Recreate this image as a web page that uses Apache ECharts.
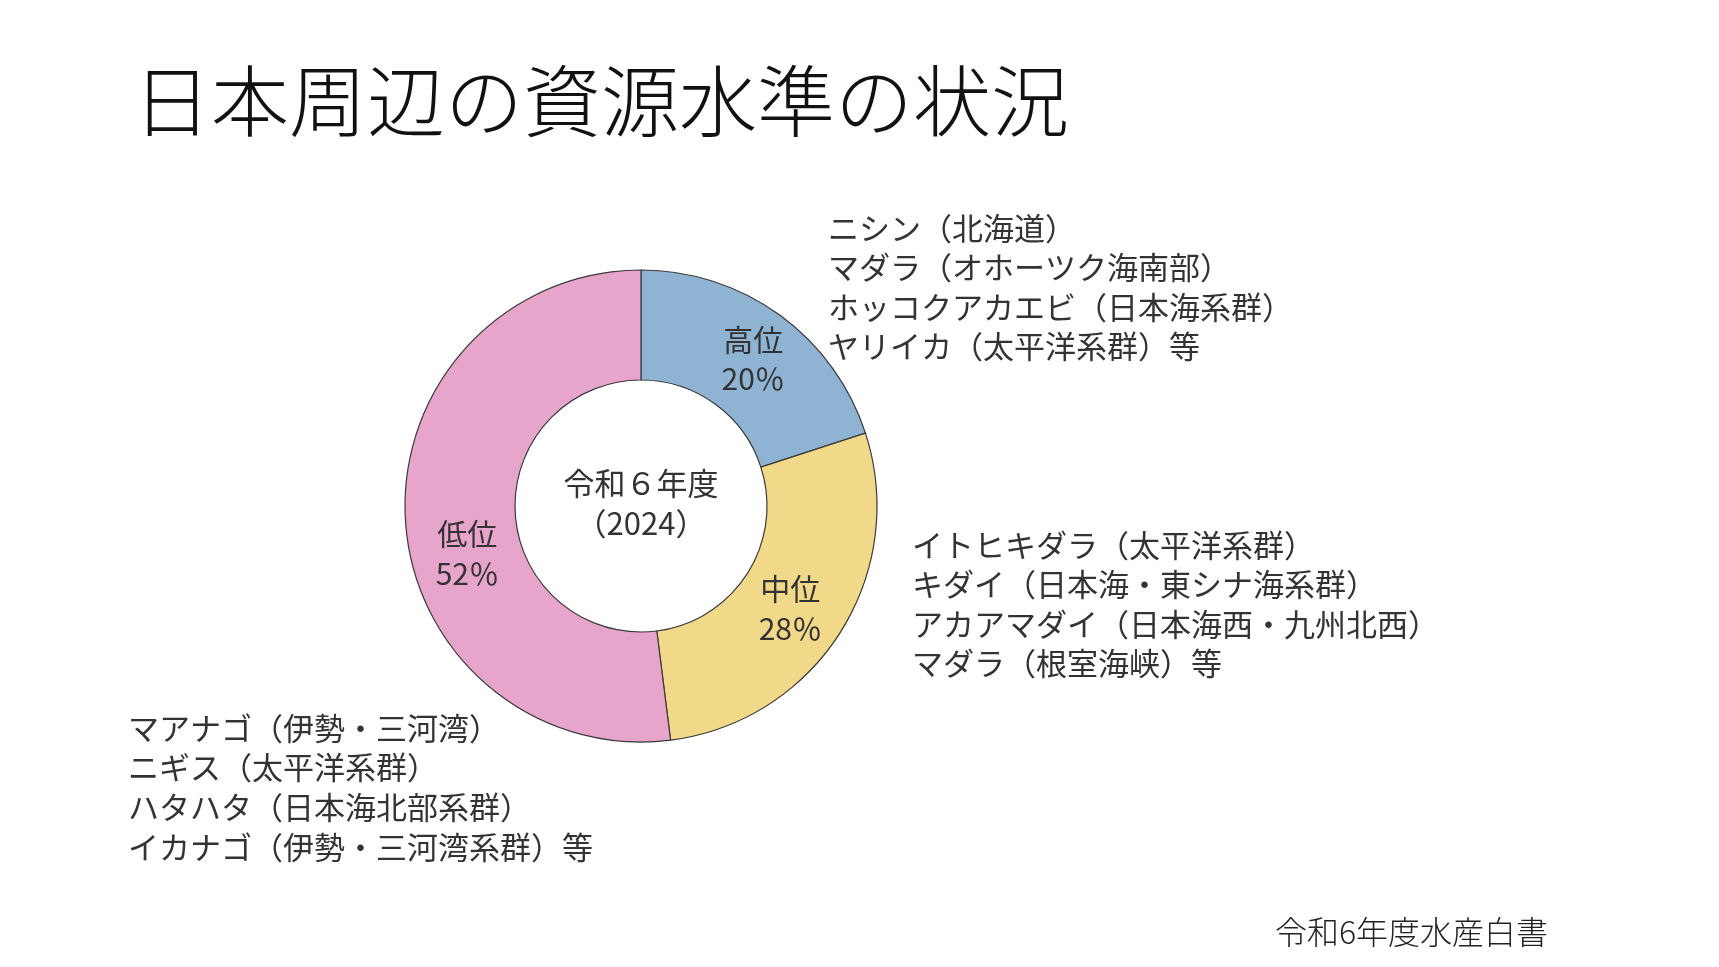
<!DOCTYPE html>
<html>
<head>
<meta charset="utf-8">
<script src="https://cdn.jsdelivr.net/npm/echarts@6/dist/echarts.min.js"></script>
<style>
html,body{margin:0;padding:0;background:#fff;}
#chart{width:1719px;height:967px;}
</style>
</head>
<body>
<div id="chart"></div>
<script>
// ---- data ----
const titleText = '日本周辺の資源水準の状況';
const centerLines = ['令和６年度', '（2024）'];
const categories = ['高位', '中位', '低位'];
const shares = [20, 28, 52];
const colors = ['#8fb4d3', '#f2d98a', '#e8a5cc'];
const highStocks = ['ニシン（北海道）', 'マダラ（オホーツク海南部）', 'ホッコクアカエビ（日本海系群）', 'ヤリイカ（太平洋系群）等'];
const midStocks = ['イトヒキダラ（太平洋系群）', 'キダイ（日本海・東シナ海系群）', 'アカアマダイ（日本海西・九州北西）', 'マダラ（根室海峡）等'];
const lowStocks = ['マアナゴ（伊勢・三河湾）', 'ニギス（太平洋系群）', 'ハタハタ（日本海北部系群）', 'イカナゴ（伊勢・三河湾系群）等'];
const sourceText = '令和6年度水産白書';

// ---- chart ----
const FONT = '"Noto Sans CJK JP", "Noto Sans", sans-serif';
const labelOffsets = [[4, 2], [-6, 4], [10, 36]];
const chart = echarts.init(document.getElementById('chart'), null, {renderer: 'canvas'});

function block(x, y, lines, size, lh, extra) {
  return Object.assign({
    type: 'text', x: x, y: y, silent: true,
    style: {
      text: lines.join('\n'), fill: '#333',
      font: size + 'px ' + FONT, lineHeight: lh,
      align: 'left', verticalAlign: 'top'
    }
  }, extra || {});
}

const title = block(133, 58, [titleText], 78, 87);
title.style.fill = '#111';
title.style.font = '300 78px ' + FONT;

const center = {
  type: 'text', x: 641, y: 503, silent: true, z: 10,
  style: {
    text: centerLines.join('\n'), fill: '#333',
    font: '31px ' + FONT, lineHeight: 40,
    align: 'center', verticalAlign: 'middle'
  }
};

const source = block(1275, 914, [sourceText], 32, 36);
source.style.font = '300 32px ' + FONT;
source.style.fill = '#222';

chart.setOption({
  backgroundColor: '#fff',
  animation: false,
  series: [{
    type: 'pie',
    center: [641, 506],
    radius: [126, 236],
    startAngle: 90,
    clockwise: true,
    avoidLabelOverlap: false,
    itemStyle: {borderColor: '#3a3a3a', borderWidth: 1.2},
    label: {
      show: true, position: 'inside',
      formatter: '{b}\n{c}％',
      fontFamily: FONT, fontSize: 30, lineHeight: 39.5, color: '#333'
    },
    labelLine: {show: false},
    emphasis: {disabled: true},
    data: categories.map((c, i) => ({
      name: c, value: shares[i],
      itemStyle: {color: colors[i]},
      label: {offset: labelOffsets[i]}
    }))
  }],
  graphic: [
    title,
    center,
    block(828, 208, highStocks, 31, 39.5),
    block(912, 525, midStocks, 31, 39.5),
    block(128, 708, lowStocks, 31, 39.7),
    source
  ]
});
</script>
</body>
</html>
